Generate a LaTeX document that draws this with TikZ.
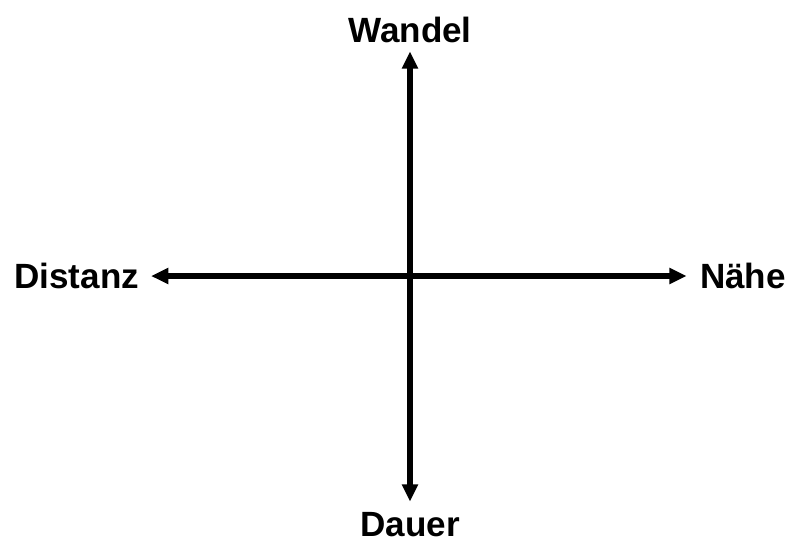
\documentclass[tikz,border=0pt]{standalone}
\usepackage{fontspec}
\setmainfont{Liberation Sans}
\usetikzlibrary{arrows.meta,positioning}

\tikzset{
	polelabel/.style={font=\bfseries\fontsize{26.3pt}{31pt}\selectfont, inner sep=0pt, outer sep=0pt, text height=19pt, text depth=0pt},
	axisline/.style={line width=3.9pt, {Triangle[length=13pt,width=11.5pt]}-{Triangle[length=13pt,width=11.5pt]}, shorten <=7pt, shorten >=7pt}
}

\begin{document}
\begin{tikzpicture}[x=0.75pt, y=-0.75pt]
		\useasboundingbox (0,0) rectangle (787,543);
		% pole labels
		\node[polelabel, anchor=south] (wandel) at (410, 42) {Wandel};
		\node[polelabel, anchor=north] (dauer) at (410, 511) {Dauer};
		\node[polelabel, anchor=east] (distanz) at (139, 276) {Distanz};
		\node[polelabel, anchor=west] (naehe) at (700, 276) {Nähe};
		% axes
		\draw[axisline] (wandel.south) -- (dauer.north);
		\draw[axisline, shorten <=9pt, shorten >=10pt] (distanz.east) -- (naehe.west);
	\end{tikzpicture}
\end{document}
